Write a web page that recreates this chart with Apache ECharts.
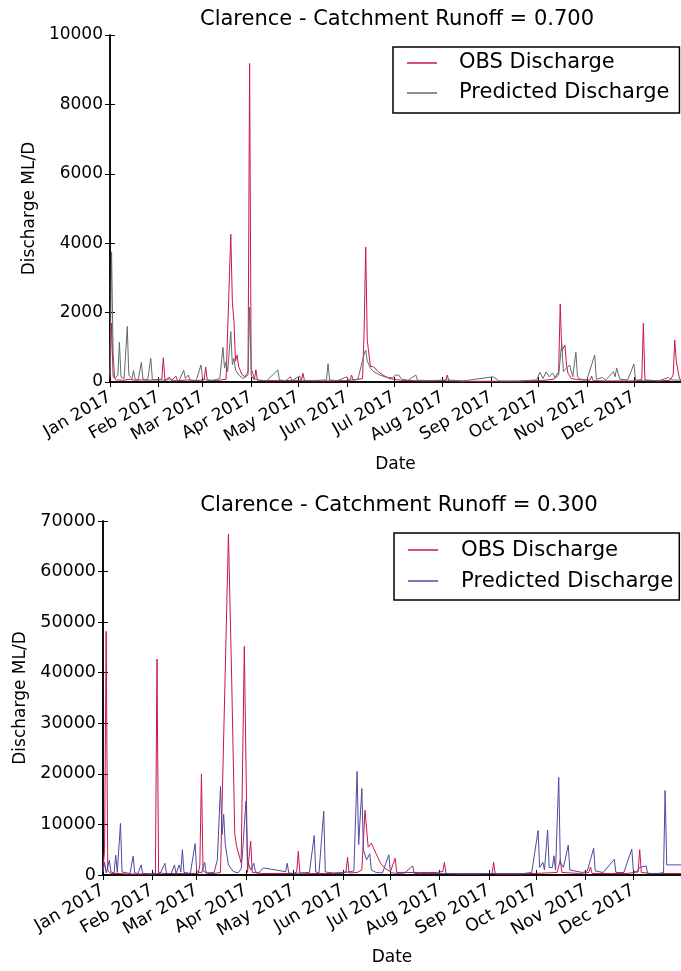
<!DOCTYPE html>
<html>
<head>
<meta charset="utf-8">
<script src="https://cdn.jsdelivr.net/npm/echarts@6/dist/echarts.min.js"></script>
<style>
  html, body { margin: 0; padding: 0; background: #fff; }
  #c1 { position: absolute; left: 0; top: 0; width: 681px; height: 490px; }
  #c2 { position: absolute; left: 0; top: 490px; width: 681px; height: 481px; }
</style>
</head>
<body>
<div id="c1"></div>
<div id="c2"></div>
<script>
// month ticks (day of year 2017)
var monthLabels = ['Jan 2017', 'Feb 2017', 'Mar 2017', 'Apr 2017', 'May 2017', 'Jun 2017',
                   'Jul 2017', 'Aug 2017', 'Sep 2017', 'Oct 2017', 'Nov 2017', 'Dec 2017'];
var monthStartDays = [0, 31, 59, 90, 120, 151, 181, 212, 243, 273, 304, 334];

// runoff 0.700 : [day of year, ML/D]
var obs07 = [[0,100],[1,1700],[2,150],[4,60],[9,50],[12,80],[16,50],[20,60],[25,50],[33,80],[34,700],[35,60],
  [38,130],[39,40],[42,170],[43,40],[50,60],[55,40],[60,60],[61,430],[62,60],[68,40],[74,80],[77,4260],[78,2300],
  [79,1780],[80,600],[81,780],[82,450],[84,220],[86,150],[88,300],[89,9180],[90,200],[92,60],[93,350],[94,50],
  [100,40],[110,40],[122,50],[123,250],[124,40],[135,30],[150,40],[153,60],[154,200],[155,50],[161,100],
  [162,1500],[163,3890],[164,1200],[166,450],[168,440],[171,300],[174,200],[178,100],[185,50],[200,30],
  [214,40],[215,200],[216,30],[230,20],[245,20],[260,20],[275,40],[283,80],[286,300],[287,2250],[288,900],
  [290,1070],[291,500],[292,250],[294,100],[300,60],[306,50],[307,170],[308,40],[315,30],[325,30],[335,30],
  [339,80],[340,1690],[341,60],[350,30],[357,50],[359,200],[360,1210],[361,600],[363,100],[364,60]];
var pred07 = [[0,200],[1,3750],[2,800],[3,100],[5,200],[6,1150],[7,150],[9,100],[11,1600],[12,200],[14,100],
  [15,330],[16,80],[18,60],[20,570],[21,80],[24,60],[26,680],[27,70],[30,50],[33,60],[36,40],[38,100],[40,40],
  [44,40],[47,340],[48,100],[50,200],[51,40],[55,50],[58,490],[59,100],[61,60],[65,40],[70,100],[72,1000],
  [73,400],[74,580],[75,300],[77,1450],[78,500],[79,680],[80,350],[82,200],[85,100],[88,200],[89,2160],
  [90,400],[92,100],[95,50],[100,40],[107,350],[108,60],[112,40],[115,150],[116,40],[121,170],[122,40],
  [130,40],[138,60],[139,530],[140,60],[145,40],[151,150],[152,40],[158,80],[160,440],[162,800],[163,920],
  [164,600],[166,400],[168,300],[172,200],[176,140],[180,120],[182,200],[184,200],[186,80],[190,50],[195,200],
  [196,50],[205,40],[215,60],[225,30],[244,150],[246,100],[248,30],[260,30],[272,60],[274,280],[276,100],
  [278,290],[280,150],[282,260],[284,120],[286,200],[288,1120],[289,300],[291,400],[293,490],[295,150],
  [297,860],[298,150],[300,80],[304,60],[309,780],[310,80],[314,130],[316,50],[321,300],[322,150],[323,400],
  [325,80],[330,60],[334,520],[335,60],[340,40],[350,40],[356,130],[358,60],[364,50]];

// runoff 0.300
var obs03 = [[0,1000],[1,5000],[2,48170],[3,800],[5,300],[10,300],[15,200],[20,200],[25,200],[30,200],[33,400],
  [34,42700],[35,500],[38,300],[45,300],[50,300],[55,300],[60,300],[61,2000],[62,20000],[63,800],[66,300],
  [70,300],[74,500],[79,67400],[81,39300],[83,8000],[84,5900],[86,3500],[87,2400],[89,45200],[91,500],
  [93,6700],[94,500],[100,300],[110,300],[120,300],[122,600],[123,4700],[124,400],[130,300],[140,300],
  [150,300],[153,600],[154,3500],[155,400],[160,500],[163,1000],[165,12800],[167,5500],[169,6300],
  [172,4200],[175,2200],[178,1200],[181,660],[184,3300],[185,500],[192,500],[200,500],[210,500],[214,700],
  [215,2500],[216,300],[225,200],[235,200],[245,300],[246,2500],[247,200],[260,200],[272,300],[286,500],
  [288,3000],[289,500],[300,300],[306,500],[307,1600],[308,300],[320,300],[330,300],[337,600],[338,5000],
  [339,500],[345,300],[355,300],[364,300]];
var pred03 = [[0,500],[1,2500],[2,400],[4,2950],[5,600],[7,400],[8,3900],[9,500],[11,10200],[12,600],[15,400],
  [17,300],[19,3700],[20,400],[22,300],[24,2000],[25,300],[28,300],[30,200],[36,300],[39,2300],[40,300],
  [43,300],[45,2000],[46,300],[48,2000],[49,600],[50,5000],[51,500],[55,300],[58,6200],[59,700],[62,400],
  [64,2500],[65,400],[70,500],[72,3000],[74,17500],[75,8000],[76,12000],[77,6000],[79,2000],[82,700],
  [85,400],[87,1200],[88,5000],[90,14600],[91,3000],[93,1000],[95,2300],[96,600],[98,400],[101,1400],
  [115,660],[116,2300],[117,400],[120,300],[125,400],[130,500],[133,7800],[134,600],[136,400],[139,12600],
  [140,600],[145,400],[150,500],[155,600],[158,800],[160,20500],[161,6000],[163,17100],[164,5000],
  [166,3000],[168,4200],[169,1000],[172,500],[176,400],[180,4000],[181,500],[185,300],[190,400],[195,1800],
  [196,300],[205,300],[215,300],[225,300],[240,300],[255,300],[265,300],[270,500],[274,8800],[275,1500],
  [277,2500],[278,1000],[280,8900],[281,1500],[283,1500],[284,3800],[285,1000],[287,19300],[288,2500],
  [290,1500],[293,5900],[294,1000],[297,800],[302,500],[305,800],[309,5300],[310,800],[315,500],[322,3100],
  [323,500],[328,500],[333,5100],[334,800],[336,600],[338,1500],[342,1800],[343,300],[350,300],[353,500],
  [354,16700],[355,2000],[364,2000]];

var FONT = 'DejaVu Sans';
var OBS_COLOR = '#cc1646';

function makeOption(c) {
  var frame = { show: true, lineStyle: { color: '#000', width: 1.5 } };
  var tick = { show: true, inside: true, length: 5, lineStyle: { color: '#000', width: 1 } };
  function xAxis(pos, labels) {
    return {
      type: 'value', min: 0, max: 364, position: pos,
      axisLine: frame,
      axisTick: Object.assign({ customValues: monthStartDays }, tick),
      axisLabel: labels ? {
        customValues: monthStartDays, rotate: 30, margin: 14,
        fontFamily: FONT, fontSize: c.tickSize, color: '#000',
        formatter: function (v) { var i = monthStartDays.indexOf(v); return i < 0 ? '' : monthLabels[i]; }
      } : { show: false },
      splitLine: { show: false },
      name: labels ? 'Date' : '', nameLocation: 'middle', nameGap: c.xNameGap,
      nameTextStyle: { fontFamily: FONT, fontSize: 17, color: '#000' }
    };
  }
  function yAxis(pos, labels) {
    return {
      type: 'value', min: 0, max: c.yMax, interval: c.yStep, position: pos,
      axisLine: frame, axisTick: tick,
      axisLabel: labels ? {
        fontFamily: FONT, fontSize: c.tickSize, color: '#000', margin: 7,
        formatter: function (v) { return String(v); }
      } : { show: false },
      splitLine: { show: false },
      name: labels ? 'Discharge ML/D' : '', nameLocation: 'middle', nameRotate: 90, nameGap: c.yNameGap,
      nameTextStyle: { fontFamily: FONT, fontSize: 17, color: '#000' }
    };
  }
  return {
    animation: false,
    backgroundColor: '#fff',
    title: {
      text: c.title, left: c.grid.left + c.grid.width / 2, top: c.titleTop, textAlign: 'center', padding: 0,
      textStyle: { fontFamily: FONT, fontSize: c.titleSize, fontWeight: 'normal', color: '#000' }
    },
    legend: {
      orient: 'vertical', left: c.legendLeft, top: c.legendTop,
      padding: c.legendPad, itemGap: c.legendGap, itemWidth: 30, itemHeight: 1.5, icon: 'rect',
      borderColor: '#000', borderWidth: 1.5, backgroundColor: '#fff',
      textStyle: { fontFamily: FONT, fontSize: c.titleSize, color: '#000', lineHeight: 22, padding: [0, 0, 0, c.legendTextPad] },
      data: ['OBS Discharge', 'Predicted Discharge']
    },
    grid: c.grid,
    xAxis: [xAxis('bottom', true), xAxis('top', false)],
    yAxis: [yAxis('left', true), yAxis('right', false)],
    series: [
      { name: 'OBS Discharge', type: 'line', data: c.obs, showSymbol: false, color: OBS_COLOR,
        lineStyle: { width: 1, color: OBS_COLOR }, itemStyle: { color: OBS_COLOR } },
      { name: 'Predicted Discharge', type: 'line', data: c.pred, showSymbol: false, color: c.predColor,
        lineStyle: { width: 1, color: c.predColor }, itemStyle: { color: c.predColor } }
    ]
  };
}

var chart1 = echarts.init(document.getElementById('c1'));
chart1.setOption(makeOption({
  title: 'Clarence - Catchment Runoff = 0.700',
  obs: obs07, pred: pred07, predColor: '#646a72',
  yMax: 10000, yStep: 2000,
  grid: { left: 110, top: 35, width: 574, height: 347 },
  titleTop: 9, titleSize: 21, tickSize: 17,
  xNameGap: 74, yNameGap: 63,
  legendLeft: 393, legendTop: 47, legendPad: [5, 10, 9, 14], legendGap: 8, legendTextPad: 17
}));

var chart2 = echarts.init(document.getElementById('c2'));
chart2.setOption(makeOption({
  title: 'Clarence - Catchment Runoff = 0.300',
  obs: obs03, pred: pred03, predColor: '#5048a0',
  yMax: 70000, yStep: 10000,
  grid: { left: 103, top: 31, width: 592, height: 356 },
  titleTop: 5, titleSize: 21.2, tickSize: 17.5,
  xNameGap: 74, yNameGap: 66,
  legendLeft: 394, legendTop: 43, legendPad: [6, 6, 8, 14], legendGap: 9, legendTextPad: 18
}));
</script>
</body>
</html>
